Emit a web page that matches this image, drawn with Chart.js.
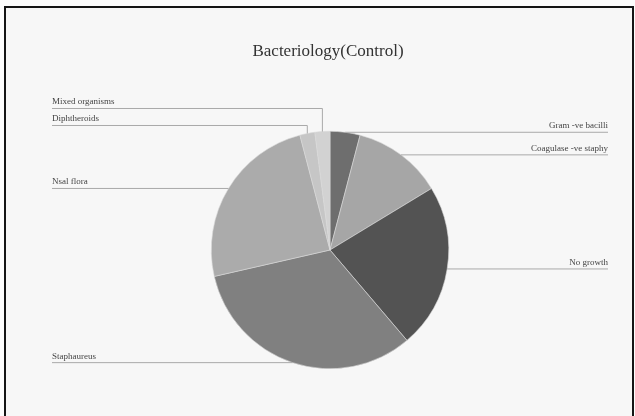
<!DOCTYPE html>
<html>
<head>
<meta charset="utf-8">
<script src="https://cdn.jsdelivr.net/npm/chart.js@4.4.0/dist/chart.umd.min.js"></script>
<style>
  html, body { margin:0; padding:0; background:#fdfdfd; }
  .frame { position:absolute; left:4px; top:6px; width:626px; height:500px; border:2px solid #151515; background:#f7f7f7; }
  .wrap { position:absolute; left:0; top:0; width:635px; height:416px; }
</style>
</head>
<body>
<div class="frame"></div>
<div class="wrap"><canvas id="pie" width="635" height="416"></canvas></div>
<script>
// data (counts, clockwise from 12 o'clock)
const categories = ['Gram -ve bacilli','Coagulase -ve staphy','No growth','Staphaureus','Nsal flora','Diphtheroids','Mixed organisms'];
const counts = [2, 6, 11, 16, 12, 1, 1];
const sliceColors = ['#6e6e6e','#a6a6a6','#535353','#808080','#ababab','#c6c6c6','#d2d2d2'];
const chartTitle = 'Bacteriology(Control)';

/* title + leader-line labels like the Excel original */
const leaderLabels = {
  id: 'leaderLabels',
  afterDraw(chart){
    const ctx = chart.ctx;
    const arcs = chart.getDatasetMeta(0).data;
    ctx.save();
    ctx.fillStyle = '#333';
    ctx.font = '17px "Liberation Serif", serif';
    ctx.textAlign = 'center';
    ctx.textBaseline = 'middle';
    ctx.fillText(chartTitle, 328, 52);

    const pts = arcs.map((a, i) => {
      const mid = (a.startAngle + a.endAngle) / 2;
      return { i, x: a.x + Math.cos(mid) * a.outerRadius, y: a.y + Math.sin(mid) * a.outerRadius, right: Math.cos(mid) >= 0 };
    });
    // spread labels so they don't collide
    const gap = 17;
    const rightSide = pts.filter(p => p.right).sort((a,b) => a.y - b.y);
    let prev = -Infinity;
    rightSide.forEach(p => { p.ly = Math.max(p.y, prev + gap); prev = p.ly; });
    const leftSide = pts.filter(p => !p.right).sort((a,b) => b.y - a.y);
    prev = Infinity;
    leftSide.forEach(p => {
      // thin slices near the top get lifted clear of the pie
      const want = p.y < arcs[0].y - arcs[0].outerRadius * 0.9 ? p.y - 8 : p.y;
      p.ly = Math.min(want, prev - gap); prev = p.ly;
    });

    ctx.font = '9px "Liberation Serif", serif';
    ctx.textBaseline = 'alphabetic';
    pts.forEach(p => {
      ctx.strokeStyle = '#a9a9a9';
      ctx.lineWidth = 1;
      ctx.beginPath();
      ctx.moveTo(p.x, p.y);
      ctx.lineTo(p.x, p.ly);
      ctx.lineTo(p.right ? 608 : 52, p.ly);
      ctx.stroke();
      ctx.fillStyle = '#444';
      ctx.textAlign = p.right ? 'right' : 'left';
      ctx.fillText(categories[p.i], p.right ? 608 : 52, p.ly - 4);
    });
    ctx.restore();
  }
};

new Chart(document.getElementById('pie').getContext('2d'), {
  type: 'pie',
  data: { labels: categories, datasets: [{ data: counts, backgroundColor: sliceColors, borderColor: '#d8d8d8', borderWidth: 0.6 }] },
  options: {
    responsive: false,
    animation: false,
    layout: { padding: { top: 131, bottom: 47, left: 25, right: 0 } },
    plugins: { legend: { display: false }, tooltip: { enabled: false }, title: { display: false } }
  },
  plugins: [leaderLabels]
});
</script>
</body>
</html>
